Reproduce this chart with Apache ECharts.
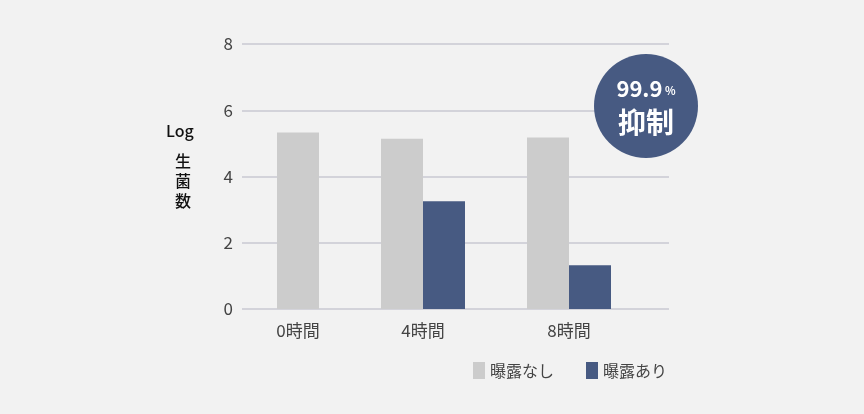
<!DOCTYPE html>
<html>
<head>
<meta charset="utf-8">
<script src="https://cdn.jsdelivr.net/npm/echarts@6/dist/echarts.min.js"></script>
<style>
  html, body { margin: 0; padding: 0; background: #f2f2f2; }
  #chart { width: 864px; height: 414px; }
</style>
</head>
<body>
<div id="chart"></div>
<script>
// data
const categories = ["0時間", "4時間", "8時間"];
const noExposure = [5.33, 5.14, 5.18];     // 曝露なし
const withExposure = [null, 3.25, 1.32];   // 曝露あり
const seriesNames = ["曝露なし", "曝露あり"];
const yMin = 0, yMax = 8, yStep = 2;

const GRAY = "#cccccc";
const BLUE = "#475a82";
const FONT = "Noto Sans CJK JP";

// paired groups vs. the lone gray bar (the original spaces them unevenly,
// so the lone one sits on its own grid)
const isLone = i => withExposure[i] == null;
const pairedGray = noExposure.map((v, i) => (isLone(i) ? "-" : v));
const loneGray = noExposure.map((v, i) => (isLone(i) ? v : "-"));
const blueVals = withExposure.map(v => (v == null ? "-" : v));

const labelStyle = { color: "#444", fontSize: 17, margin: 13, fontFamily: FONT, interval: 0 };

const chart = echarts.init(document.getElementById("chart"));
const option = {
  backgroundColor: "#f2f2f2",
  animation: false,
  textStyle: { fontFamily: FONT },
  grid: [
    { left: 242, right: 195, top: 44, bottom: 105 },
    { left: 204, right: 222, top: 44, bottom: 105 },
    { left: 225, right: 201, top: 44, bottom: 105 }
  ],
  xAxis: [
    { gridIndex: 0, type: "value", show: false, min: 0, max: 1 },
    {
      gridIndex: 1, type: "category", data: categories,
      axisLine: { show: false }, axisTick: { show: false },
      axisLabel: Object.assign({}, labelStyle, {
        formatter: (v, i) => (isLone(i) ? "" : v)
      })
    },
    {
      gridIndex: 2, type: "category", data: categories,
      axisLine: { show: false }, axisTick: { show: false },
      axisLabel: Object.assign({}, labelStyle, {
        formatter: (v, i) => (isLone(i) ? v : "")
      })
    }
  ],
  yAxis: [
    {
      gridIndex: 0, type: "value", min: yMin, max: yMax, interval: yStep,
      axisLine: { show: false }, axisTick: { show: false },
      axisLabel: { color: "#444", fontSize: 17, margin: 9, fontFamily: FONT },
      splitLine: { lineStyle: { color: "#c9c9d2", width: 1.5 } }
    },
    { gridIndex: 1, type: "value", min: yMin, max: yMax, show: false },
    { gridIndex: 2, type: "value", min: yMin, max: yMax, show: false }
  ],
  legend: {
    data: seriesNames,
    left: 468, top: 357,
    itemWidth: 12, itemHeight: 17, itemGap: 32,
    icon: "rect",
    textStyle: { color: "#444", fontSize: 16, fontFamily: FONT }
  },
  series: [
    {
      name: seriesNames[0], type: "bar", xAxisIndex: 1, yAxisIndex: 1,
      data: pairedGray, barWidth: 42, barGap: "0%",
      itemStyle: { color: GRAY }
    },
    {
      name: seriesNames[1], type: "bar", xAxisIndex: 1, yAxisIndex: 1,
      data: blueVals, barWidth: 42, barGap: "0%",
      itemStyle: { color: BLUE }
    },
    {
      name: "single", type: "bar", xAxisIndex: 2, yAxisIndex: 2,
      data: loneGray, barWidth: 42,
      itemStyle: { color: GRAY }
    }
  ],
  graphic: [
    {
      type: "text", left: 166, top: 123,
      style: { text: "Log", fill: "#111", font: "500 16px " + FONT }
    },
    {
      type: "text", left: 175, top: 151,
      style: { text: "生\n菌\n数", fill: "#111", font: "500 16px " + FONT, lineHeight: 20 }
    },
    {
      type: "circle", shape: { cx: 646, cy: 106, r: 52 },
      style: { fill: BLUE }, z: 10
    },
    {
      type: "text", x: 646, y: 89, z: 11,
      style: {
        text: "{a|99.9}{b| %}", align: "center", verticalAlign: "middle",
        rich: {
          a: { fill: "#fff", fontSize: 22, fontWeight: "bold", fontFamily: FONT },
          b: { fill: "#fff", fontSize: 11, fontWeight: "bold", fontFamily: FONT, padding: [4, 0, 0, 0] }
        }
      }
    },
    {
      type: "text", x: 646, y: 122, z: 11,
      style: {
        text: "抑制", align: "center", verticalAlign: "middle",
        fill: "#fff", font: "bold 28px " + FONT
      }
    }
  ]
};
chart.setOption(option);
</script>
</body>
</html>
